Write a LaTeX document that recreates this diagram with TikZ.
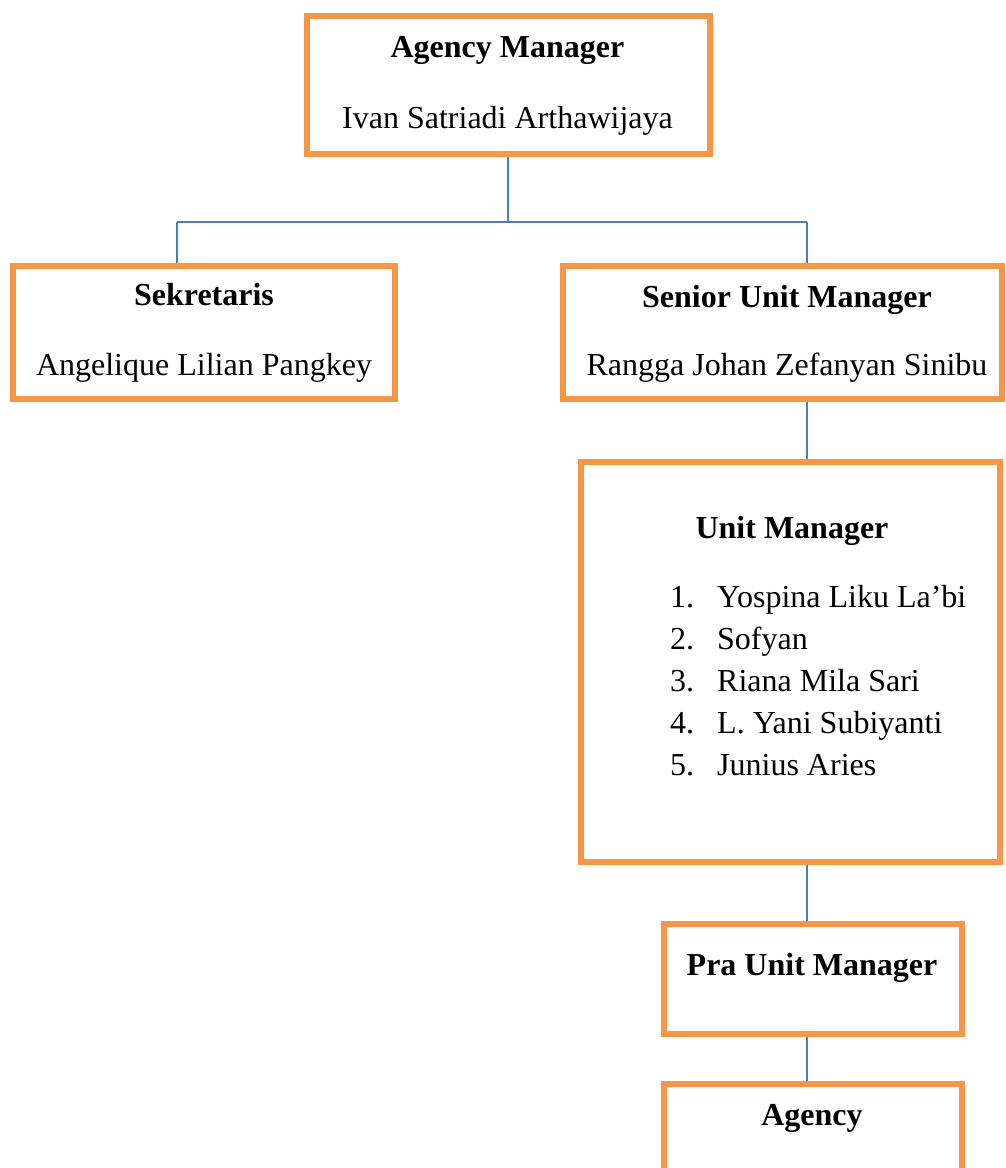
\documentclass[tikz,border=0pt]{standalone}
\usepackage{fontspec}
\setmainfont{Liberation Serif}
\usepackage{tikz}
\usetikzlibrary{backgrounds}
\definecolor{boxorange}{HTML}{F79646}
\definecolor{linkblue}{HTML}{4A7EBB}
\tikzset{
  orgbox/.style={draw=boxorange, line width=6pt, inner sep=0pt},
  link/.style={draw=linkblue, line width=1.5pt},
  headtext/.style={anchor=base, inner sep=0pt, font=\bfseries\fontsize{32}{38}\selectfont},
  persontext/.style={anchor=base, inner sep=0pt, font=\fontsize{32}{38}\selectfont},
}

\begin{document}
\begin{tikzpicture}[x=1pt, y=-1pt]
    \useasboundingbox (0,0) rectangle (1005,1168);
    \clip (0,0) rectangle (1005,1168);

    \node[orgbox, minimum width=403pt, minimum height=138pt] (agencymgr)  at (508, 85)     {};
    \node[orgbox, minimum width=382pt, minimum height=133pt] (sekretaris) at (204, 332.5)  {};
    \node[orgbox, minimum width=439pt, minimum height=133pt] (seniorum)   at (782.5, 332.5) {};
    \node[orgbox, minimum width=419pt, minimum height=400pt] (unitmgr)    at (790.5, 662)  {};
    \node[orgbox, minimum width=298pt, minimum height=110pt] (praum)      at (813, 979)    {};
    \node[orgbox, minimum width=298pt, minimum height=116pt] (agency)     at (813, 1142)   {};

    \node[headtext]   (amtitle)  at (507.5, 57)  {Agency Manager};
    \node[persontext] (amname)   at (507.5, 128) {Ivan Satriadi Arthawijaya};
    \node[headtext]   (sektitle) at (204, 305)   {Sekretaris};
    \node[persontext] (sekname)  at (204, 375)   {Angelique Lilian Pangkey};
    \node[headtext]   (sumtitle) at (787, 307)   {Senior Unit Manager};
    \node[persontext] (sumname)  at (787, 375)   {Rangga Johan Zefanyan Sinibu};
    \node[headtext]   (umtitle)  at (792, 538)   {Unit Manager};
    \foreach \nm [count=\i] in {Yospina Liku La’bi, Sofyan, Riana Mila Sari, L. Yani Subiyanti, Junius Aries} {
        \node[persontext, anchor=base west] (umnum\i) at (670, 565+42*\i) {\i.};
        \node[persontext, anchor=base west] (umname\i) at (717, 565+42*\i) {\nm};
    }
    \node[headtext]   (puttitle) at (812, 975)   {Pra Unit Manager};
    \node[headtext]   (agtitle)  at (812, 1125)  {Agency};

    \coordinate (busL) at (177, 222);
    \coordinate (busR) at (807, 222);
    \begin{scope}[on background layer]
        \draw[link] (agencymgr.south) -- (agencymgr.south |- busL);
        \draw[link] (busL) -- (busR);
        \draw[link] (busL) -- (busL |- sekretaris.north);
        \draw[link] (busR) -- (busR |- seniorum.north);
        \draw[link] (busR |- seniorum.south) -- (busR |- unitmgr.north);
        \draw[link] (busR |- unitmgr.south) -- (busR |- praum.north);
        \draw[link] (busR |- praum.south) -- (busR |- agency.north);
    \end{scope}
\end{tikzpicture}
\end{document}
